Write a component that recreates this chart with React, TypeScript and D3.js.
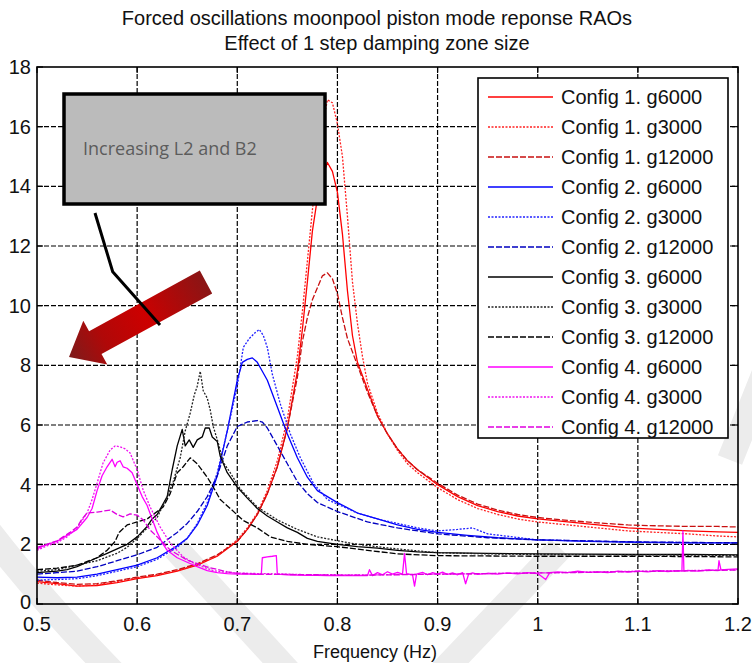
import React, { useRef, useEffect } from "react";
import * as d3 from "d3";

type Pt = [number, number];

// frequency (Hz), RAO
const c1g6000: Pt[] = [
  [0.5, 0.75], [0.52, 0.68], [0.54, 0.6], [0.56, 0.62], [0.58, 0.72], [0.6, 0.85], [0.62, 0.95],
  [0.64, 1.1], [0.66, 1.3], [0.68, 1.6], [0.7, 2.1], [0.71, 2.5], [0.72, 3.0], [0.73, 3.7],
  [0.74, 4.6], [0.75, 5.9], [0.76, 7.8], [0.765, 9.2], [0.77, 10.8], [0.775, 12.5], [0.78, 13.6],
  [0.785, 14.3], [0.79, 14.8], [0.795, 14.5], [0.8, 13.8], [0.805, 12.4], [0.81, 10.5],
  [0.815, 9.0], [0.82, 8.1], [0.83, 7.2], [0.84, 6.3], [0.85, 5.7], [0.86, 5.2], [0.87, 4.8],
  [0.88, 4.5], [0.9, 4.0], [0.92, 3.6], [0.94, 3.3], [0.96, 3.1], [0.98, 2.95], [1.0, 2.85],
  [1.03, 2.75], [1.06, 2.65], [1.09, 2.55], [1.12, 2.5], [1.15, 2.45], [1.18, 2.42], [1.2, 2.4],
];
const c1g3000: Pt[] = [
  [0.5, 0.7], [0.52, 0.64], [0.54, 0.6], [0.56, 0.64], [0.58, 0.76], [0.6, 0.88], [0.62, 0.98],
  [0.64, 1.12], [0.66, 1.32], [0.68, 1.62], [0.7, 2.15], [0.71, 2.55], [0.72, 3.05], [0.73, 3.8],
  [0.74, 4.8], [0.75, 6.2], [0.76, 8.3], [0.765, 9.8], [0.77, 11.5], [0.775, 13.2], [0.78, 14.8],
  [0.785, 16.0], [0.79, 16.9], [0.795, 16.8], [0.8, 16.1], [0.805, 15.0], [0.81, 13.0],
  [0.815, 10.8], [0.82, 9.4], [0.825, 8.3], [0.83, 7.4], [0.84, 6.4], [0.85, 5.7], [0.86, 5.15],
  [0.87, 4.7], [0.88, 4.4], [0.9, 3.9], [0.92, 3.5], [0.94, 3.2], [0.96, 3.0], [0.98, 2.85],
  [1.0, 2.75], [1.03, 2.65], [1.06, 2.55], [1.09, 2.45], [1.12, 2.4], [1.15, 2.35], [1.18, 2.28],
  [1.2, 2.25],
];
const c1g12000: Pt[] = [
  [0.5, 0.8], [0.52, 0.72], [0.54, 0.66], [0.56, 0.68], [0.58, 0.78], [0.6, 0.9], [0.62, 1.0],
  [0.64, 1.15], [0.66, 1.35], [0.68, 1.65], [0.7, 2.1], [0.71, 2.5], [0.72, 3.0], [0.73, 3.7],
  [0.74, 4.6], [0.75, 5.9], [0.76, 7.6], [0.765, 8.8], [0.77, 9.6], [0.775, 10.2], [0.78, 10.6],
  [0.785, 11.0], [0.79, 11.1], [0.795, 10.9], [0.8, 10.4], [0.805, 9.6], [0.81, 8.9],
  [0.82, 8.0], [0.83, 7.1], [0.84, 6.3], [0.85, 5.7], [0.86, 5.2], [0.87, 4.8], [0.88, 4.5],
  [0.9, 4.05], [0.92, 3.65], [0.94, 3.35], [0.96, 3.15], [0.98, 3.0], [1.0, 2.9], [1.03, 2.8],
  [1.06, 2.72], [1.09, 2.65], [1.12, 2.62], [1.15, 2.6], [1.18, 2.6], [1.2, 2.58],
];

const c2g6000: Pt[] = [
  [0.5, 0.9], [0.52, 0.88], [0.54, 0.9], [0.56, 1.0], [0.58, 1.15], [0.6, 1.3], [0.62, 1.55],
  [0.64, 1.95], [0.65, 2.2], [0.66, 2.65], [0.67, 3.3], [0.68, 4.3], [0.69, 5.8], [0.7, 7.5],
  [0.705, 8.1], [0.71, 8.2], [0.715, 8.25], [0.72, 8.1], [0.725, 7.8], [0.73, 7.5], [0.74, 6.6],
  [0.75, 5.7], [0.76, 4.9], [0.77, 4.25], [0.78, 3.8], [0.8, 3.4], [0.82, 3.05], [0.84, 2.85],
  [0.86, 2.65], [0.88, 2.5], [0.9, 2.4], [0.93, 2.3], [0.96, 2.22], [1.0, 2.15], [1.05, 2.1],
  [1.1, 2.07], [1.15, 2.05], [1.2, 2.05],
];
const c2g3000: Pt[] = [
  [0.5, 0.8], [0.52, 0.82], [0.54, 0.85], [0.56, 0.95], [0.58, 1.1], [0.6, 1.25], [0.62, 1.5],
  [0.64, 1.9], [0.65, 2.2], [0.66, 2.7], [0.67, 3.4], [0.68, 4.4], [0.69, 5.8], [0.7, 7.3],
  [0.706, 8.6], [0.712, 8.9], [0.718, 9.1], [0.722, 9.2], [0.726, 9.0], [0.73, 8.6],
  [0.735, 7.7], [0.743, 6.7], [0.753, 5.7], [0.763, 4.9], [0.776, 4.05], [0.79, 3.5],
  [0.8, 3.35], [0.82, 3.05], [0.84, 2.85], [0.86, 2.7], [0.88, 2.55], [0.9, 2.45], [0.92, 2.5],
  [0.935, 2.55], [0.95, 2.35], [1.0, 2.15], [1.1, 2.07], [1.2, 2.05],
];
const c2g12000: Pt[] = [
  [0.5, 1.0], [0.52, 1.05], [0.54, 1.1], [0.56, 1.25], [0.58, 1.45], [0.6, 1.65], [0.62, 1.9],
  [0.64, 2.4], [0.65, 2.7], [0.66, 3.1], [0.67, 3.6], [0.68, 4.3], [0.69, 5.3], [0.7, 5.95],
  [0.71, 6.1], [0.72, 6.15], [0.725, 6.1], [0.73, 5.9], [0.74, 5.3], [0.75, 4.7], [0.76, 4.1],
  [0.77, 3.7], [0.78, 3.4], [0.8, 3.1], [0.83, 2.75], [0.86, 2.55], [0.9, 2.35], [0.95, 2.22],
  [1.0, 2.15], [1.1, 2.08], [1.2, 2.05],
];

const c3g6000: Pt[] = [
  [0.5, 1.05], [0.51, 1.08], [0.52, 1.1], [0.53, 1.15], [0.54, 1.25], [0.55, 1.4], [0.56, 1.55],
  [0.57, 1.7], [0.58, 1.85], [0.59, 2.0], [0.6, 2.25], [0.61, 2.6], [0.615, 2.85], [0.62, 3.0],
  [0.625, 3.3], [0.63, 3.6], [0.635, 4.5], [0.64, 5.3], [0.645, 5.85], [0.648, 5.3],
  [0.652, 5.5], [0.656, 5.25], [0.66, 5.5], [0.665, 5.6], [0.668, 5.9], [0.672, 5.9],
  [0.675, 5.6], [0.68, 5.45], [0.683, 4.95], [0.69, 4.4], [0.7, 3.92], [0.71, 3.55], [0.72, 3.2],
  [0.73, 2.95], [0.74, 2.75], [0.75, 2.55], [0.76, 2.4], [0.77, 2.2], [0.78, 2.1], [0.8, 2.0],
  [0.82, 1.92], [0.84, 1.87], [0.86, 1.8], [0.88, 1.75], [0.9, 1.72], [0.95, 1.7], [1.0, 1.68],
  [1.05, 1.67], [1.1, 1.66], [1.15, 1.66], [1.2, 1.65],
];
const c3g3000: Pt[] = [
  [0.5, 1.1], [0.52, 1.15], [0.54, 1.3], [0.56, 1.45], [0.58, 1.7], [0.59, 1.9], [0.6, 2.2],
  [0.61, 2.55], [0.62, 2.9], [0.63, 3.6], [0.636, 4.1], [0.643, 4.9], [0.648, 5.8],
  [0.653, 6.4], [0.657, 7.0], [0.66, 7.3], [0.663, 7.8], [0.666, 7.15], [0.67, 6.9],
  [0.673, 6.5], [0.676, 5.95], [0.681, 5.4], [0.686, 4.75], [0.693, 4.4], [0.703, 3.85],
  [0.72, 3.25], [0.74, 2.82], [0.76, 2.5], [0.78, 2.25], [0.8, 2.12], [0.82, 2.0], [0.85, 1.88],
  [0.88, 1.78], [0.9, 1.72], [0.95, 1.68], [1.0, 1.66], [1.1, 1.65], [1.2, 1.63],
];
const c3g12000: Pt[] = [
  [0.5, 1.15], [0.52, 1.2], [0.54, 1.3], [0.56, 1.55], [0.57, 1.8], [0.578, 2.1], [0.582, 2.4],
  [0.59, 2.65], [0.6, 2.75], [0.61, 2.85], [0.62, 3.1], [0.626, 3.25], [0.633, 3.7], [0.64, 4.4],
  [0.646, 4.6], [0.653, 4.9], [0.66, 4.7], [0.67, 4.25], [0.676, 3.92], [0.683, 3.5],
  [0.693, 3.2], [0.706, 2.8], [0.72, 2.55], [0.733, 2.25], [0.75, 2.1], [0.77, 2.0], [0.8, 1.92],
  [0.83, 1.8], [0.86, 1.68], [0.9, 1.62], [1.0, 1.6], [1.1, 1.6], [1.2, 1.58],
];

const c4g6000: Pt[] = [
  [0.5, 1.85], [0.51, 2.0], [0.52, 2.1], [0.53, 2.3], [0.54, 2.5], [0.55, 2.9], [0.555, 3.2],
  [0.56, 3.8], [0.565, 4.3], [0.57, 4.6], [0.575, 4.85], [0.578, 4.6], [0.58, 4.75],
  [0.583, 4.8], [0.586, 4.6], [0.59, 4.55], [0.595, 4.4], [0.6, 4.0], [0.605, 3.6], [0.61, 3.3],
  [0.615, 2.85], [0.62, 2.4], [0.625, 2.05], [0.63, 1.8], [0.64, 1.55], [0.65, 1.4],
  [0.66, 1.25], [0.67, 1.12], [0.68, 1.05], [0.69, 1.02], [0.7, 1.0], [0.71, 1.01], [0.72, 0.99],
  [0.724, 1.0], [0.725, 1.55], [0.73, 1.58], [0.735, 1.6], [0.739, 1.62], [0.74, 1.0],
  [0.75, 0.98], [0.76, 0.97], [0.77, 0.96], [0.78, 0.96], [0.79, 0.95], [0.8, 0.96], [0.81, 0.95],
  [0.82, 0.96], [0.83, 0.95], [0.832, 1.15], [0.835, 0.95], [0.84, 1.05], [0.845, 0.98],
  [0.85, 1.08], [0.855, 1.0], [0.86, 1.06], [0.865, 1.0], [0.867, 1.7], [0.869, 1.02],
  [0.875, 0.98], [0.877, 0.6], [0.879, 1.0], [0.885, 1.06], [0.89, 0.98], [0.895, 1.05],
  [0.9, 1.0], [0.905, 1.07], [0.91, 0.99], [0.915, 1.04], [0.92, 0.98], [0.925, 1.05],
  [0.928, 0.68], [0.931, 1.0], [0.935, 1.04], [0.94, 0.99], [0.95, 1.03], [0.96, 1.0],
  [0.97, 1.04], [0.98, 1.01], [0.99, 1.05], [1.0, 1.02], [1.008, 0.82], [1.012, 1.05],
  [1.02, 1.08], [1.03, 1.05], [1.04, 1.1], [1.05, 1.06], [1.06, 1.08], [1.07, 1.05], [1.08, 1.1],
  [1.09, 1.07], [1.1, 1.1], [1.11, 1.08], [1.12, 1.12], [1.13, 1.09], [1.14, 1.12],
  [1.144, 1.1], [1.145, 2.45], [1.146, 1.1], [1.15, 1.13], [1.16, 1.1], [1.17, 1.14],
  [1.18, 1.12], [1.181, 1.45], [1.183, 1.14], [1.19, 1.16], [1.2, 1.18],
];
const c4g3000: Pt[] = [
  [0.5, 1.8], [0.51, 1.95], [0.52, 2.05], [0.53, 2.25], [0.54, 2.55], [0.545, 2.8], [0.55, 3.05],
  [0.555, 3.5], [0.56, 4.05], [0.566, 4.73], [0.573, 5.16], [0.578, 5.3], [0.583, 5.27],
  [0.588, 5.2], [0.593, 5.06], [0.6, 4.5], [0.606, 3.82], [0.613, 3.25], [0.623, 2.58],
  [0.633, 2.04], [0.646, 1.58], [0.656, 1.38], [0.666, 1.24], [0.676, 1.12], [0.686, 1.07],
  [0.7, 1.04], [0.72, 1.02], [0.74, 1.01], [0.76, 0.99], [0.78, 0.98], [0.8, 0.98], [0.83, 0.97],
  [0.86, 0.99], [0.9, 1.0], [0.95, 1.02], [1.0, 1.04], [1.05, 1.07], [1.1, 1.1], [1.15, 1.12],
  [1.2, 1.15],
];
const c4g12000: Pt[] = [
  [0.5, 1.9], [0.51, 2.0], [0.52, 2.12], [0.526, 2.25], [0.533, 2.4], [0.54, 2.58], [0.545, 2.85],
  [0.55, 3.05], [0.56, 3.08], [0.573, 3.15], [0.58, 3.0], [0.586, 2.92], [0.593, 3.02],
  [0.6, 2.98], [0.606, 2.82], [0.613, 2.48], [0.62, 2.25], [0.633, 1.81], [0.65, 1.47],
  [0.67, 1.24], [0.69, 1.08], [0.7, 1.03], [0.72, 1.0], [0.75, 0.99], [0.78, 0.98], [0.8, 0.97],
  [0.83, 0.97], [0.86, 0.98], [0.9, 1.0], [0.95, 1.02], [1.0, 1.04], [1.05, 1.06], [1.1, 1.09],
  [1.15, 1.11], [1.2, 1.14],
];

const xTicks = [0.5, 0.6, 0.7, 0.8, 0.9, 1, 1.1, 1.2];
const yTicks = [0, 2, 4, 6, 8, 10, 12, 14, 16, 18];

const seriesNames = [
  "Config 1. g6000", "Config 1. g3000", "Config 1. g12000",
  "Config 2. g6000", "Config 2. g3000", "Config 2. g12000",
  "Config 3. g6000", "Config 3. g3000", "Config 3. g12000",
  "Config 4. g6000", "Config 4. g3000", "Config 4. g12000",
];
const seriesData = [
  c1g6000, c1g3000, c1g12000,
  c2g6000, c2g3000, c2g12000,
  c3g6000, c3g3000, c3g12000,
  c4g6000, c4g3000, c4g12000,
];
const seriesColors = [
  "#ff0000", "#ff2020", "#c81010",
  "#0000ff", "#2020ff", "#0000c0",
  "#000000", "#202020", "#000000",
  "#ff00ff", "#f010f0", "#e000e0",
];
const seriesDash = [
  null, "2 1.5", "6 2",
  null, "2 1.5", "6 2",
  null, "2 1.5", "6 2",
  null, "2 1.5", "6 2",
];

const W = 752;
const H = 663;
const FONT = "'Liberation Sans', Arial, sans-serif";

const App = () => {
  const svgRef = useRef<SVGSVGElement>(null);

  useEffect(() => {
    const svg = d3.select(svgRef.current);
    svg.selectAll("*").remove();

    const x = d3.scaleLinear().domain([0.5, 1.2]).range([37, 738]);
    const y = d3.scaleLinear().domain([0, 18]).range([604, 67]);

    svg.append("rect").attr("width", W).attr("height", H).attr("fill", "#fff");

    // faint watermark strokes
    const wm = svg.append("g").attr("fill", "none").attr("stroke", "#ececec").attr("stroke-width", 26);
    wm.append("path").attr("d", "M -20 520 Q 40 600 130 690");
    wm.append("path").attr("d", "M 175 548 L 305 690");
    wm.append("path").attr("d", "M 560 548 L 425 690");
    wm.append("path").attr("d", "M 770 360 L 730 460");

    // grid
    const grid = svg.append("g").attr("stroke", "#000").attr("stroke-width", 1.2).attr("stroke-dasharray", "5 2");
    xTicks.slice(1, -1).forEach((t) => {
      grid.append("line").attr("x1", x(t)).attr("x2", x(t)).attr("y1", y(0)).attr("y2", y(18));
    });
    yTicks.slice(1, -1).forEach((t) => {
      grid.append("line").attr("x1", x(0.5)).attr("x2", x(1.2)).attr("y1", y(t)).attr("y2", y(t));
    });

    // series
    const line = d3.line<Pt>().x((d) => x(d[0])).y((d) => y(d[1]));
    const plot = svg.append("g");
    seriesData.forEach((data, i) => {
      const p = plot
        .append("path")
        .attr("d", line(data))
        .attr("fill", "none")
        .attr("stroke", seriesColors[i])
        .attr("stroke-width", 1.3)
        .attr("stroke-linejoin", "round");
      if (seriesDash[i]) p.attr("stroke-dasharray", seriesDash[i]);
    });

    // axes box
    svg
      .append("rect")
      .attr("x", x(0.5))
      .attr("y", y(18))
      .attr("width", x(1.2) - x(0.5))
      .attr("height", y(0) - y(18))
      .attr("fill", "none")
      .attr("stroke", "#000")
      .attr("stroke-width", 1.6);

    const ticks = svg.append("g").attr("stroke", "#000").attr("stroke-width", 1.2);
    xTicks.forEach((t) => {
      ticks.append("line").attr("x1", x(t)).attr("x2", x(t)).attr("y1", y(0)).attr("y2", y(0) - 6);
      ticks.append("line").attr("x1", x(t)).attr("x2", x(t)).attr("y1", y(18)).attr("y2", y(18) + 6);
    });
    yTicks.forEach((t) => {
      ticks.append("line").attr("x1", x(0.5)).attr("x2", x(0.5) + 6).attr("y1", y(t)).attr("y2", y(t));
      ticks.append("line").attr("x1", x(1.2)).attr("x2", x(1.2) - 6).attr("y1", y(t)).attr("y2", y(t));
    });

    const labels = svg.append("g").attr("font-family", FONT).attr("fill", "#111");
    xTicks.forEach((t) => {
      labels.append("text").attr("x", x(t)).attr("y", 631).attr("font-size", 20)
        .attr("text-anchor", "middle").text(String(t));
    });
    yTicks.forEach((t) => {
      labels.append("text").attr("x", 31).attr("y", y(t) + (t === 0 ? 5 : 7)).attr("font-size", 20)
        .attr("text-anchor", "end").text(String(t));
    });
    labels.append("text").attr("x", 375).attr("y", 658).attr("font-size", 18)
      .attr("text-anchor", "middle").text("Frequency (Hz)");
    labels.append("text").attr("x", 377).attr("y", 25).attr("font-size", 20).attr("text-anchor", "middle")
      .text("Forced oscillations moonpool piston mode reponse RAOs");
    labels.append("text").attr("x", 377).attr("y", 50).attr("font-size", 20).attr("text-anchor", "middle")
      .text("Effect of 1 step damping zone size");

    // legend
    const lg = svg.append("g");
    lg.append("rect").attr("x", 478).attr("y", 78).attr("width", 250).attr("height", 360)
      .attr("fill", "#fff").attr("stroke", "#000").attr("stroke-width", 1.6);
    seriesNames.forEach((name, i) => {
      const cy = 97 + i * 30;
      const l = lg.append("line").attr("x1", 488).attr("x2", 553).attr("y1", cy).attr("y2", cy)
        .attr("stroke", seriesColors[i]).attr("stroke-width", 1.5);
      if (seriesDash[i]) l.attr("stroke-dasharray", seriesDash[i]);
      lg.append("text").attr("x", 561).attr("y", cy + 7).attr("font-family", FONT)
        .attr("font-size", 20).attr("fill", "#111").text(name);
    });

    // annotation: box, connector, arrow
    const ann = svg.append("g");
    const grad = svg.append("defs").append("linearGradient").attr("id", "arrowGrad")
      .attr("gradientUnits", "userSpaceOnUse")
      .attr("x1", 206).attr("y1", 282).attr("x2", 69).attr("y2", 357);
    grad.append("stop").attr("offset", 0).attr("stop-color", "#8a1515");
    grad.append("stop").attr("offset", 0.45).attr("stop-color", "#cc0000");
    grad.append("stop").attr("offset", 0.75).attr("stop-color", "#b00808");
    grad.append("stop").attr("offset", 1).attr("stop-color", "#7d1c1c");
    ann.append("polygon")
      .attr("points", "69,357 83.3,320.7 89.1,331.2 199.8,270.6 212.2,293.4 101.5,354 107.3,364.5")
      .attr("fill", "url(#arrowGrad)");
    ann.append("rect").attr("x", 64).attr("y", 94).attr("width", 261).attr("height", 110)
      .attr("fill", "#bbbbbb").attr("stroke", "#000").attr("stroke-width", 3.5);
    ann.append("text").attr("x", 83).attr("y", 155).attr("font-family", "'Open Sans', sans-serif")
      .attr("font-size", 18).attr("fill", "#5c5c5c").text("Increasing L2 and B2");
    ann.append("polyline").attr("points", "95,213 112.7,271.7 160,325")
      .attr("fill", "none").attr("stroke", "#000").attr("stroke-width", 3);
  }, []);

  return (
    <svg ref={svgRef} width={W} height={H} style={{ position: "absolute", left: 0, top: 0 }} />
  );
};

export default App;
